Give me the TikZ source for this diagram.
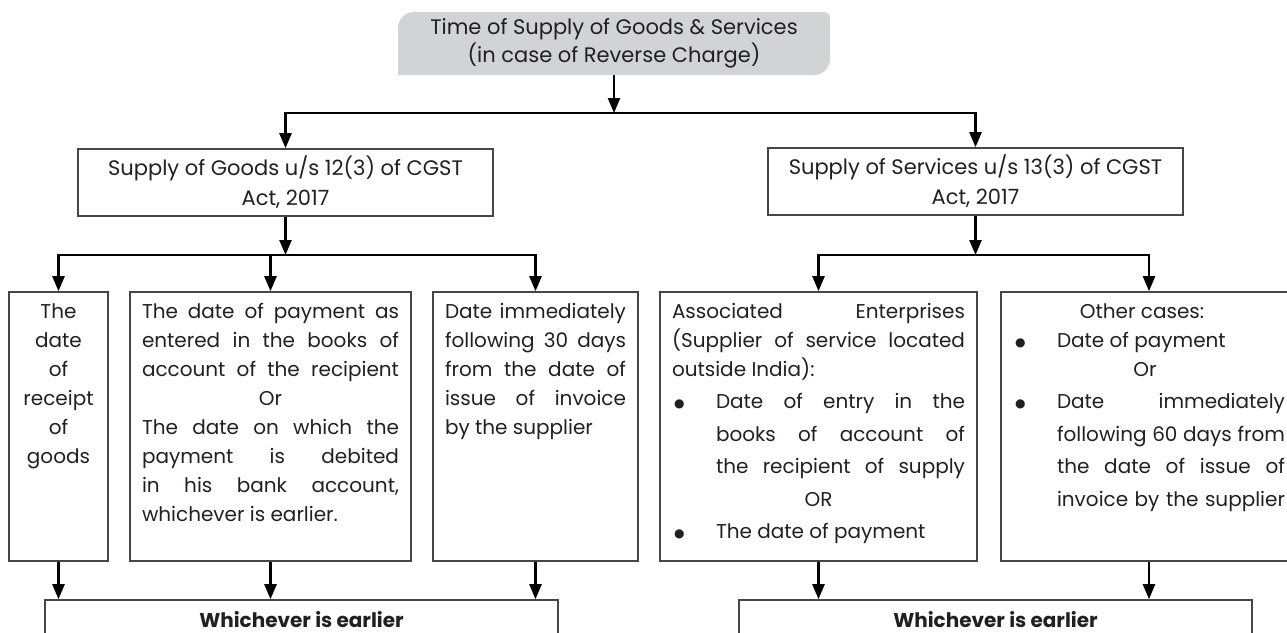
\documentclass[tikz,border=0pt]{standalone}
\usepackage{fontspec}
\setmainfont{Poppins}
\newfontfamily\simbolo{DejaVu Sans}
\usetikzlibrary{arrows.meta}

\definecolor{cinzatopo}{RGB}{209,211,212}
\definecolor{borda}{RGB}{70,70,70}
\definecolor{texto}{RGB}{35,31,32}

% linhas de texto: justificada, centrada, à esquerda, com marcador
\newcommand{\est}{\rule{0pt}{22pt}}
\newcommand{\lnj}[1]{\noindent\makebox[\hsize][s]{\est#1}\par}
\newcommand{\lnc}[1]{\noindent\makebox[\hsize][c]{\est#1}\par}
\newcommand{\lnl}[1]{\noindent\makebox[\hsize][l]{\est#1}\par}
\newcommand{\marca}{\makebox[44pt][l]{\est\hspace*{2pt}\raisebox{1pt}{\simbolo\fontsize{12}{12}\selectfont ●}}}
\newcommand{\lnb}[1]{\noindent\marca\makebox[\dimexpr\hsize-44pt\relax][s]{#1}\par}
\newcommand{\lnbl}[1]{\noindent\marca\makebox[\dimexpr\hsize-44pt\relax][l]{#1}\par}
\newcommand{\lnbi}[1]{\noindent\hspace*{44pt}\makebox[\dimexpr\hsize-44pt\relax][s]{\est#1}\par}
\newcommand{\bloco}[3]{\parbox[t][#2][t]{#1}{\baselineskip=29pt #3}}

\begin{document}
\begin{tikzpicture}[
    x=1pt, y=-1pt,
    % caixas comuns
    caixa/.style={
        draw=borda, line width=1.6pt, text=texto,
        font=\fontsize{20}{30}\selectfont,
        inner xsep=12pt, inner ysep=4pt
    },
    % caixas de nível 1
    caixanv/.style={
        caixa, align=center, font=\fontsize{21}{30}\selectfont,
        minimum width=415pt, minimum height=67pt
    },
    % caixas de resultado
    caixares/.style={
        caixa, font=\fontsize{20}{30}\selectfont\bfseries,
        minimum width=513pt, minimum height=40pt
    },
    seta/.style={draw=black, line width=2.4pt, -{Triangle[length=15pt,width=12pt]}}
]
\useasboundingbox (0,0) rectangle (1287,632);

% ---- RAIZ ----
\fill[cinzatopo] (398,75) -- (398,28) arc[start angle=180, end angle=270, radius=16]
    -- (824,12) arc[start angle=270, end angle=360, radius=6]
    -- (830,59) arc[start angle=0, end angle=90, radius=16] -- cycle;
\node[text=texto, font=\fontsize{21}{28}\selectfont, align=center,
      minimum width=432pt, minimum height=63pt] (raiz) at (614,43.5)
    {Time of Supply of Goods \& Services\\(in case of Reverse Charge)};

% ---- NÍVEL 1 ----
\node[caixanv] (goods) at (285.5,182.5) {Supply of Goods u/s 12(3) of CGST\\Act, 2017};
\node[caixanv] (serv)  at (975.5,181.5) {Supply of Services u/s 13(3) of CGST\\Act, 2017};

\coordinate (bif_raiz) at (614,113);
\draw[seta]  (raiz.south) -- (bif_raiz);
\draw[seta]  (bif_raiz) -| (goods.north);
\draw[seta]  (bif_raiz) -| (serv.north);

% ---- NÍVEL 2: BENS ----
\node[caixa] (g1) at (58.5,426.5) {\bloco{75pt}{261pt}{%
    \lnc{The}\lnc{date}\lnc{of}\lnc{receipt}\lnc{of}\lnc{goods}}};
\node[caixa] (g2) at (270.5,426.5) {\bloco{257pt}{261pt}{%
    \lnj{The date of payment as}
    \lnj{entered in the books of}
    \lnj{account of the recipient}
    \lnc{Or}
    \lnj{The date on which the}
    \lnj{payment is debited}
    \lnj{in his bank account,}
    \lnl{whichever is earlier.}}};
\node[caixa] (g3) at (535.5,426.5) {\bloco{181pt}{261pt}{%
    \lnj{Date immediately}
    \lnj{following 30 days}
    \lnj{from the date of}
    \lnj{issue of invoice}
    \lnl{by the supplier}}};

\coordinate (bif_g) at (285.5,255);
\draw[seta] (goods.south) -- (bif_g);
\draw[seta] (bif_g) -| (g1.north);
\draw[seta] (bif_g) -| (g2.north);
\draw[seta] (bif_g) -| (g3.north);

% ---- NÍVEL 2: SERVIÇOS ----
\node[caixa] (s1) at (818.5,426.5) {\bloco{293pt}{261pt}{%
    \lnj{Associated Enterprises}
    \lnj{(Supplier of service located}
    \lnl{outside India):}
    \baselineskip=32.5pt
    \lnb{Date of entry in the}
    \lnbi{books of account of}
    \lnbi{the recipient of supply}
    \lnc{OR}
    \lnbl{The date of payment}}};
\node[caixa] (s2) at (1149,426.5) {\bloco{272pt}{261pt}{%
    \lnc{Other cases:\hspace*{14pt}}
    \lnbl{Date of payment}
    \lnc{Or\hspace*{8pt}}
    \baselineskip=32.5pt
    \lnb{Date immediately}
    \lnbi{following 60 days from}
    \lnbi{the date of issue of}
    \lnbi{invoice by the supplier}}};

\coordinate (bif_s) at (975.5,255);
\draw[seta] (serv.south) -- (bif_s);
\draw[seta] (bif_s) -| (s1.north);
\draw[seta] (bif_s) -| (s2.north);

% ---- NÍVEL 3: RESULTADOS ----
\node[caixares] (res_g) at (301.5,620) {Whichever is earlier};
\node[caixares] (res_s) at (995.5,620) {Whichever is earlier};

\draw[seta] (g1.south) -- (g1.south |- res_g.north);
\draw[seta] (g2.south) -- (g2.south |- res_g.north);
\draw[seta] (g3.south) -- (g3.south |- res_g.north);
\draw[seta] (s1.south) -- (s1.south |- res_s.north);
\draw[seta] (s2.south) -- (s2.south |- res_s.north);

\end{tikzpicture}
\end{document}
